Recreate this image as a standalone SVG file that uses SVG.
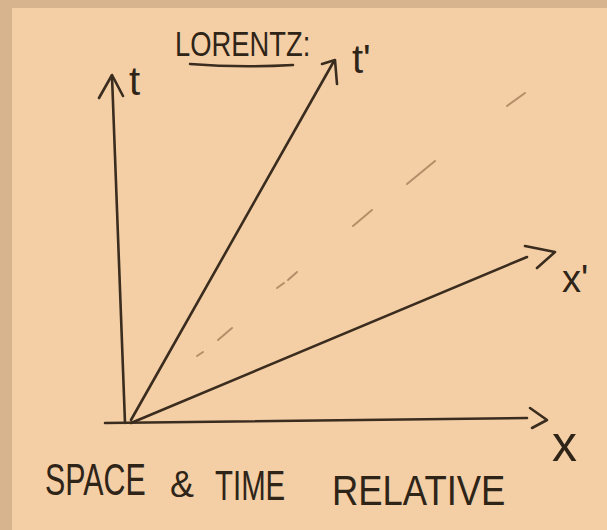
<svg xmlns="http://www.w3.org/2000/svg" width="607" height="530" viewBox="0 0 607 530">
<style>
.ink{fill:none;stroke:#3a2c1e;stroke-width:2.6;stroke-linecap:round;stroke-linejoin:round}
.dash{fill:none;stroke:#9c7a56;stroke-width:2;stroke-linecap:round;opacity:0.75}
.lbl{font-family:"Liberation Sans",Arial,sans-serif;fill:#2f2418}
</style>
<rect x="0" y="0" width="607" height="530" fill="#d8b48e"/>
<rect x="12" y="8" width="595" height="522" fill="#f4cfa5"/>
<g id="title">
<text class="lbl" transform="translate(175,56) scale(0.76,1)" font-size="36">LORENTZ:</text>
<path class="ink" d="M190,64 Q240,68 293,65"/>
</g>
<g id="connectors">
<path id="t-axis" class="ink" d="M125,423 Q118,250 112,76"/>
<path class="ink" d="M99,98 L112,75 L123,96"/>
<path id="tprime-axis" class="ink" d="M131,420 L334,61"/>
<path class="ink" d="M322,64 L335,60 L337,84"/>
<path id="xprime-axis" class="ink" d="M131,423 L527,257"/>
<path class="ink" d="M525,246 L555,252 L537,268"/>
<path id="x-axis" class="ink" d="M105,423 L527,418"/>
<path class="ink" d="M530,408 L547,420 L532,428"/>
</g>
<g id="light-line">
<path class="dash" d="M197,356 L203,352"/>
<path class="dash" d="M218,340 L232,328"/>
<path class="dash" d="M277,288 L284,283 M288,280 L297,272"/>
<path class="dash" d="M353,226 L372,210"/>
<path class="dash" d="M407,184 L435,161"/>
<path class="dash" d="M507,106 L525,93"/>
</g>
<g id="label-t"><text class="lbl" x="129" y="95" font-size="40">t</text></g>
<g id="label-tprime"><text class="lbl" x="352" y="73" font-size="40">t'</text></g>
<g id="label-xprime"><text class="lbl" x="562" y="292" font-size="38">x'</text></g>
<g id="label-x"><text class="lbl" x="552" y="461" font-size="50">x</text></g>
<g id="caption">
<text class="lbl" transform="translate(45,495) scale(0.69,1)" font-size="44">SPACE</text>
<text class="lbl" x="170" y="497" font-size="36">&amp;</text>
<text class="lbl" transform="translate(215,500) scale(0.70,1)" font-size="42">TIME</text>
<text class="lbl" transform="translate(332,505) scale(0.867,1)" font-size="42">RELATIVE</text>
</g>
</svg>
